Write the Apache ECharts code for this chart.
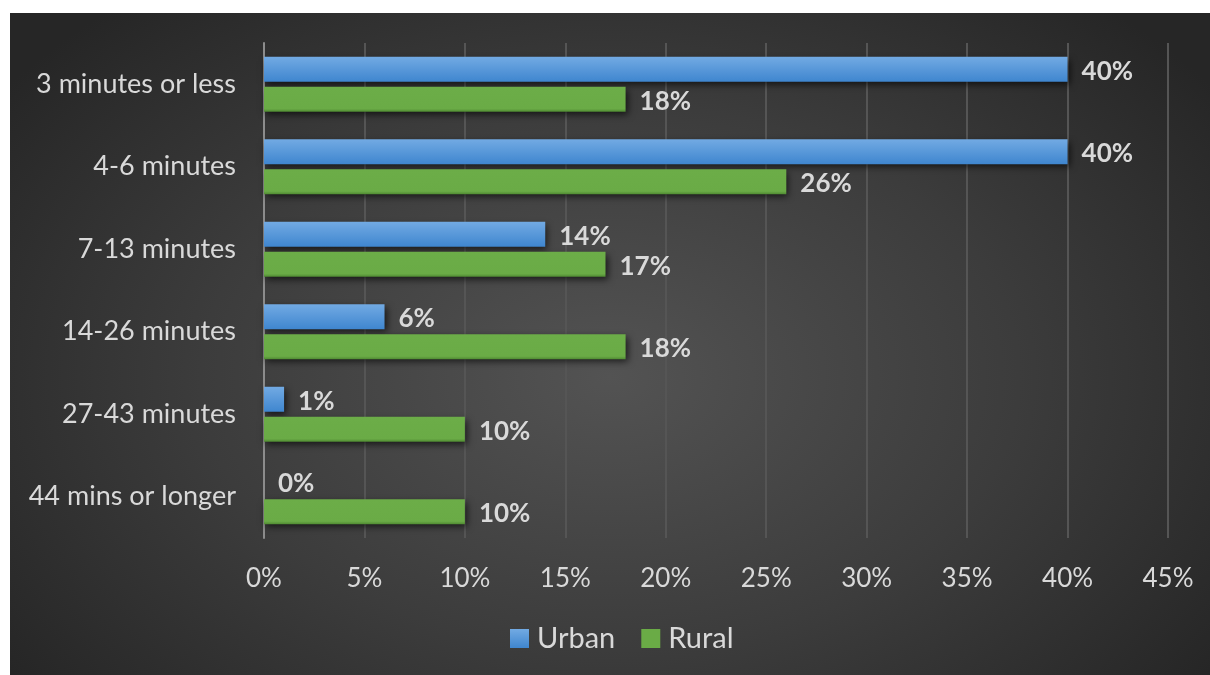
<!DOCTYPE html>
<html>
<head>
<meta charset="utf-8">
<script src="https://cdn.jsdelivr.net/npm/echarts@6/dist/echarts.min.js"></script>
<style>
  html, body { margin: 0; padding: 0; background: #ffffff; width: 1210px; height: 675px; overflow: hidden; }
  #panel {
    position: absolute; left: 10px; top: 13px; width: 1200px; height: 662px;
    background: radial-gradient(ellipse 62% 75% at 50% 55%, #535353 0%, #3c3c3c 55%, #262626 100%);
  }
  #chart { width: 1200px; height: 662px; }
</style>
</head>
<body>
<div id="panel"><div id="chart"></div></div>
<script>
// Commute time to the nearest store, share of households
const categories = ['3 minutes or less', '4-6 minutes', '7-13 minutes', '14-26 minutes', '27-43 minutes', '44 mins or longer'];
const urban = [40, 40, 14, 6, 1, 0];
const rural = [18, 26, 17, 18, 10, 10];
const seriesNames = ['Urban', 'Rural'];

const FONT = 'Lato, "Noto Sans", sans-serif';
const TEXT = '#d9d9d9';

const blueFill = new echarts.graphic.LinearGradient(0, 0, 0, 1, [
  { offset: 0, color: '#72aae3' },
  { offset: 1, color: '#3f86cf' }
]);
const greenFill = new echarts.graphic.LinearGradient(0, 0, 0, 1, [
  { offset: 0, color: '#6cad48' },
  { offset: 0.88, color: '#6aab46' },
  { offset: 1, color: '#4f8a32' }
]);

const shadow = { shadowColor: 'rgba(0,0,0,0.65)', shadowBlur: 7, shadowOffsetX: 2, shadowOffsetY: 3 };

function barSeries(name, data, fill) {
  return {
    name: name,
    type: 'bar',
    data: data,
    barWidth: 25,
    barGap: '20%',
    barCategoryGap: '33%',
    itemStyle: Object.assign({ color: fill }, shadow),
    label: {
      show: true,
      position: 'right',
      distance: 14,
      offset: [0, 2],
      formatter: '{c}%',
      color: TEXT,
      fontFamily: FONT,
      fontWeight: 'bold',
      fontSize: 26
    }
  };
}

const chart = echarts.init(document.getElementById('chart'), null, { renderer: 'canvas' });
chart.setOption({
  backgroundColor: 'transparent',
  animation: false,
  grid: { left: 254, right: 42, top: 30, bottom: 137, containLabel: false },
  legend: {
    data: [
      { name: seriesNames[0], itemStyle: { color: blueFill } },
      { name: seriesNames[1], itemStyle: { color: '#6aab46' } }
    ],
    left: 500,
    top: 611,
    padding: 0,
    icon: 'rect',
    itemWidth: 19,
    itemHeight: 19,
    itemGap: 26,
    textStyle: { color: TEXT, fontFamily: FONT, fontSize: 29, padding: [0, 0, 0, 3] }
  },
  xAxis: {
    type: 'value',
    min: 0,
    max: 45,
    interval: 5,
    axisLine: { show: false },
    axisTick: { show: false },
    splitLine: { show: true, lineStyle: { color: '#555555', width: 2 } },
    axisLabel: { formatter: '{value}%', color: TEXT, fontFamily: FONT, fontSize: 26, margin: 28 }
  },
  yAxis: {
    type: 'category',
    data: categories,
    inverse: true,
    axisLine: { show: true, lineStyle: { color: '#8c8c8c', width: 2 } },
    axisTick: { show: false },
    axisLabel: { color: TEXT, fontFamily: FONT, fontSize: 27, margin: 28 }
  },
  series: [
    barSeries(seriesNames[0], urban, blueFill),
    barSeries(seriesNames[1], rural, greenFill)
  ]
});
</script>
</body>
</html>
